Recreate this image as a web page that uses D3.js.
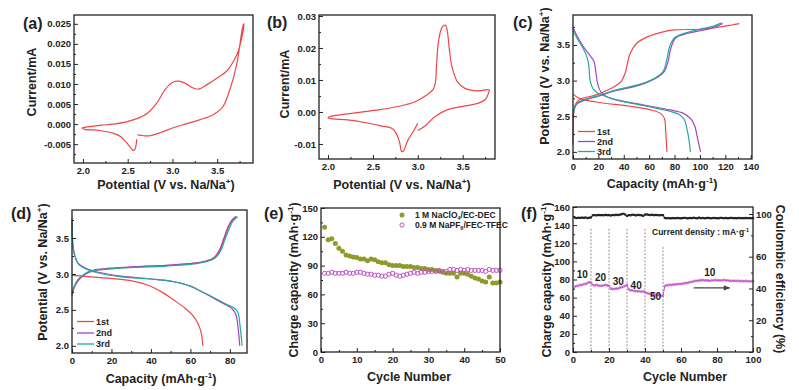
<!DOCTYPE html>
<html>
<head>
<meta charset="utf-8">
<script src="https://cdn.jsdelivr.net/npm/d3@7"></script>
<style>
body { margin: 0; background: #fff; }
svg { display: block; font-family: "Liberation Sans", Arial, sans-serif; }
</style>
</head>
<body>
<div id="container"></div>
<script>
var width = 799,
    height = 390;

// ---- data ----
// (a) CV, [potential V, current mA]
var cvA = [
  [2.61,-0.0027],[2.68,-0.0029],[2.75,-0.0029],[2.87,-0.0021],[3.01,-0.0009],[3.16,0.0001],
  [3.31,0.0011],[3.46,0.0024],[3.56,0.0042],[3.65,0.0092],[3.72,0.0151],[3.79,0.0247],
  [3.8,0.025],[3.74,0.0185],[3.69,0.0160],[3.61,0.0133],[3.5,0.0115],[3.39,0.0099],
  [3.29,0.0087],[3.22,0.0091],[3.15,0.0101],[3.07,0.0107],[3.01,0.0105],[2.96,0.0097],
  [2.9,0.0080],[2.83,0.0054],[2.72,0.0027],[2.57,0.0011],[2.38,0.0001],[2.19,-0.0003],
  [2.05,-0.0007],[1.99,-0.0010],[2.02,-0.0013],[2.19,-0.0016],[2.34,-0.0023],[2.42,-0.0031],
  [2.47,-0.0042],[2.53,-0.0058],[2.56,-0.0066],[2.58,-0.0063],[2.595,-0.0050],[2.6,-0.0038]
];
// (b) CV
var cvB = [
  [3.0,-0.0058],[3.08,-0.0044],[3.19,-0.0015],[3.34,0.0008],[3.53,0.0019],[3.67,0.0027],
  [3.75,0.0038],[3.79,0.0060],[3.795,0.0069],[3.67,0.0066],[3.53,0.0073],[3.44,0.0095],
  [3.38,0.0142],[3.35,0.0200],[3.33,0.0250],[3.31,0.0271],[3.29,0.0270],[3.26,0.0258],
  [3.23,0.0220],[3.21,0.0150],[3.195,0.0090],[3.17,0.0070],[3.1,0.0053],[2.97,0.0032],
  [2.78,0.0017],[2.6,0.0008],[2.41,0.0001],[2.22,-0.0006],[2.04,-0.0013],[2.0,-0.0018],
  [2.03,-0.0021],[2.22,-0.0025],[2.41,-0.0033],[2.6,-0.0044],[2.71,-0.0051],[2.76,-0.0067],
  [2.8,-0.0098],[2.82,-0.0124],[2.84,-0.0122],[2.89,-0.0088],[2.95,-0.0061],[3.0,-0.0035]
];
// (c) charge / discharge, [capacity mAh/g, potential V]
var c1Chg = [[0,2.1],[0.4,2.5],[1.5,2.65],[5,2.73],[18,2.8],[31,2.9],[38,2.99],[41,3.1],[43,3.25],
  [45,3.38],[50,3.52],[58,3.61],[68,3.67],[80,3.71],[100,3.72],[115,3.75],[125,3.78],[131,3.8]];
var c1Dis = [[0,2.81],[5,2.75],[18,2.7],[45,2.64],[61,2.59],[69,2.54],[72,2.47],[73,2.3],[73.5,2.15],[74,2.0]];
var c2Chg = [[0,2.5],[1,2.6],[3,2.67],[10,2.73],[20,2.78],[32,2.85],[53,2.94],[66,3.04],[72,3.13],
  [75,3.28],[77,3.45],[81,3.6],[90,3.66],[100,3.7],[110,3.74],[118,3.8]];
var c2Dis = [[0,3.74],[4,3.6],[8,3.48],[13,3.36],[16.5,3.27],[18,3.12],[19.5,2.95],[22,2.84],[27,2.77],
  [34,2.73],[55,2.66],[76,2.59],[87,2.54],[93,2.46],[96,2.36],[98,2.2],[100.5,2.0]];
var c3Chg = [[0,2.48],[1,2.6],[3,2.68],[10,2.74],[20,2.79],[32,2.86],[53,2.95],[65,3.04],[71,3.13],
  [74,3.3],[76,3.47],[80,3.6],[89,3.67],[100,3.72],[110,3.76],[117,3.81]];
var c3Dis = [[0,3.7],[4,3.57],[8,3.45],[11,3.33],[12.5,3.2],[13.5,3.0],[16,2.88],[20,2.82],[27,2.77],
  [34,2.73],[55,2.65],[76,2.57],[84,2.52],[88,2.44],[90,2.3],[91.5,2.15],[92.5,2.0]];
// (d)
var d1Chg = [[0,2.7],[1,2.8],[3,2.9],[7,3.0],[12,3.05],[19,3.07],[31,3.1],[48,3.12],[62,3.15],
  [68,3.18],[72,3.23],[75,3.35],[77,3.5],[79,3.65],[81,3.75],[83,3.8]];
var d1Dis = [[0,2.98],[14,2.95],[31,2.9],[39,2.84],[46,2.74],[52,2.63],[57,2.53],[61,2.43],[64,2.3],
  [65.5,2.18],[66.3,2.0]];
var d2Chg = [[0,2.72],[1,2.81],[3,2.91],[7,3.01],[12,3.06],[19,3.08],[31,3.1],[48,3.12],[62,3.15],
  [68,3.18],[72,3.22],[75,3.33],[77,3.48],[79,3.63],[81,3.74],[83.3,3.8]];
var d2Dis = [[0,3.78],[0.5,3.4],[1.5,3.25],[3,3.15],[7,3.08],[14,3.02],[25,2.97],[40,2.93],[50,2.9],
  [60,2.83],[66,2.75],[72,2.66],[78,2.57],[81,2.52],[83,2.44],[84.2,2.25],[85,2.0]];
var d3Chg = [[0,2.74],[1,2.82],[3,2.92],[7,3.01],[12,3.05],[19,3.07],[31,3.09],[48,3.11],[62,3.14],
  [68,3.17],[72.5,3.22],[75.5,3.33],[77.5,3.48],[79.5,3.62],[81.5,3.73],[84,3.8]];
var d3Dis = [[0,3.72],[0.6,3.35],[1.8,3.22],[3.5,3.13],[7,3.07],[14,3.01],[25,2.96],[40,2.93],[50,2.9],
  [60,2.83],[66,2.75],[72,2.67],[78,2.58],[82,2.53],[84,2.47],[85.3,2.25],[86.2,2.0]];
// (e) charge capacity per cycle 1..50
var naClO4 = [130,117,118,113,108,105,101,100,99,98.5,97,97,95,97,96,94,93,93,91,90,
  90,90,89,89,89,88,88,87,87,86,86,85,84,83,82,82,82,78,82,82,
  81,79,77,76,74,73,78,72,72,73];
var naPF6 = [82,82,83,82,82,82,83,82,82,83,83,82,81,81,80,80,79,79,81,82,
  80,79,80,81,82,83,82,83,83,84,84,84,85,84,84,86,86,85,86,85,
  86,85,85,85,85,84,86,85,85,85];
// (f) rate test, cycles 1..100
var rateCap = [72,73,73,74,74,75,75,76,77,76.5,
  74,73.5,74,73.5,73,73,73.5,74,73.5,73,
  70,69.5,69.5,70,70,71,71.5,72,73,74,
  69,68,68,67.5,67,67,67,66.5,67,66,
  65,64.5,64,64,63.5,63,63,62.5,62,62,
  73,73.5,74,74,74,74.5,74.5,75,75,75,
  75.5,76,76,76.5,77,77.5,78,78.5,78.5,79,
  79,79.5,79,79,79,78.5,79,79,79.5,79,
  79,79,79,79.5,79,79,78.5,78.5,78.5,78.5,
  78.5,78.5,78,78.5,78,78.5,78,78,78,78];
var rateCE = [96.6,96.2,96.5,96.3,96.6,96.4,96.7,96.2,96.5,96.8,
  98.8,99.0,98.7,99.1,98.9,99.0,98.8,99.2,98.9,99.0,
  98.6,99.1,98.9,99.3,99.0,99.4,99.8,100.2,99.5,98.2,
  99.0,98.8,99.3,99.1,98.7,99.2,99.0,98.8,98.3,99.4,
  99.6,99.2,99.0,99.3,98.9,99.1,99.0,98.8,99.0,98.9,
  96.3,96.0,96.2,95.9,96.1,96.2,96.0,96.3,96.1,96.0,
  96.2,96.4,96.1,96.0,96.3,96.1,96.5,96.2,96.0,96.6,
  96.1,96.3,96.0,96.2,96.4,96.1,96.0,96.3,96.2,96.1,
  96.0,96.4,96.2,96.1,96.3,96.0,96.2,96.4,96.1,96.2,
  96.0,96.3,96.1,96.2,96.0,96.3,96.1,96.2,96.0,96.2];
var rateSteps = [10, 20, 30, 40, 50];          // dashed separators (cycle)
var rateStepTop = [136, 136, 136, 136, 116];   // top of dashed separators (mAh/g)
var rateLabels = ["10", "20", "30", "40", "50", "10"];
var rateLabelAt = [[5.2,82],[15.3,78],[25.2,73.5],[35.1,69.5],[45.8,57],[76,84]];

// ticks
var cvXTicks = [2.0, 2.5, 3.0, 3.5];
var cvXMinor = [2.25, 2.75, 3.25, 3.75];
var aYTicks = [-0.005, 0, 0.005, 0.01, 0.015, 0.02, 0.025];
var aYMinor = [-0.0075, -0.0025, 0.0025, 0.0075, 0.0125, 0.0175, 0.0225];
var bYTicks = [-0.01, 0, 0.01, 0.02, 0.03];
var bYMinor = [-0.005, 0.005, 0.015, 0.025];
var potTicks = [2.0, 2.5, 3.0, 3.5];
var potMinor = [2.25, 2.75, 3.25, 3.75];
var cXTicks = [0, 20, 40, 60, 80, 100, 120, 140];
var cXMinor = [10, 30, 50, 70, 90, 110, 130];
var dXTicks = [0, 20, 40, 60, 80];
var dXMinor = [10, 30, 50, 70];
var eXTicks = [0, 10, 20, 30, 40, 50];
var eXMinor = [5, 15, 25, 35, 45];
var eYTicks = [0, 30, 60, 90, 120, 150];
var eYMinor = [15, 45, 75, 105, 135];
var fXTicks = [0, 20, 40, 60, 80, 100];
var fXMinor = [10, 30, 50, 70, 90];
var fYTicks = [0, 20, 40, 60, 80, 100, 120, 140, 160];
var fYMinor = [10, 30, 50, 70, 90, 110, 130, 150];
var fRTicks = [0, 20, 40, 60, 100];
var fRMinor = [10, 30, 50, 80];

var RED = "#f04646", PURPLE = "#a444c4", TEAL = "#24a8a0", OLIVE = "#8f9a2c", MAGENTA = "#c24fc6";
var FONT = "'Liberation Sans', Arial, sans-serif";

var svg = d3.select('#container').append('svg')
    .attr("width", width)
    .attr("height", height);

function fmt(spec) {
  var f = d3.format(spec);
  return function(d) { return f(d).replace("\u2212", "-"); };
}

function styleAxis(sel) {
  sel.select(".domain").remove();
  sel.selectAll("line").attr("stroke", "#222").attr("stroke-width", 1);
  sel.selectAll("text")
    .attr("font-family", FONT)
    .attr("font-weight", "bold")
    .attr("font-size", 9.5)
    .attr("fill", "#222");
}

// text with sup/sub parts
function rich(sel, parts, fs) {
  var shift = 0;
  parts.forEach(function(p) {
    var t = sel.append("tspan").text(p[0]);
    var target = p[1] === "sup" ? -0.4 * fs : p[1] === "sub" ? 0.25 * fs : 0;
    if (target !== shift) t.attr("dy", target - shift);
    shift = target;
    if (p[1]) t.attr("font-size", fs * 0.65);
  });
  return sel;
}

function label(x, y, parts, fs, rot) {
  var t = svg.append("text")
    .attr("transform", "translate(" + x + "," + y + ")" + (rot ? " rotate(" + rot + ")" : ""))
    .attr("text-anchor", "middle")
    .attr("font-family", FONT)
    .attr("font-weight", "bold")
    .attr("font-size", fs)
    .attr("fill", "#222");
  return rich(t, parts, fs);
}

function addPanel(c) {
  var x = d3.scaleLinear().domain(c.xd).range([c.l, c.r]);
  var y = d3.scaleLinear().domain(c.yd).range([c.b, c.t]);
  var plot = svg.append("g");
  var ax = svg.append("g");
  ax.append("g").attr("transform", "translate(0," + c.b + ")")
    .call(d3.axisBottom(x).tickValues(c.xt).tickSize(-4).tickPadding(4).tickFormat(c.xf))
    .call(styleAxis);
  ax.append("g").attr("transform", "translate(0," + c.b + ")")
    .call(d3.axisBottom(x).tickValues(c.xm).tickSize(-2).tickFormat(""))
    .call(styleAxis);
  ax.append("g").attr("transform", "translate(" + c.l + ",0)")
    .call(d3.axisLeft(y).tickValues(c.yt).tickSize(-4).tickPadding(3).tickFormat(c.yf))
    .call(styleAxis);
  ax.append("g").attr("transform", "translate(" + c.l + ",0)")
    .call(d3.axisLeft(y).tickValues(c.ym).tickSize(-2).tickFormat(""))
    .call(styleAxis);
  ax.append("rect")
    .attr("x", c.l).attr("y", c.t)
    .attr("width", c.r - c.l).attr("height", c.b - c.t)
    .attr("fill", "none").attr("stroke", "#222").attr("stroke-width", 1.3);
  return { x: x, y: y, g: plot, ax: ax };
}

function curve(p, data, color, w) {
  var line = d3.line()
    .x(function(d) { return p.x(d[0]); })
    .y(function(d) { return p.y(d[1]); })
    .curve(d3.curveCatmullRom.alpha(0.5));
  p.g.append("path").attr("d", line(data))
    .attr("fill", "none").attr("stroke", color).attr("stroke-width", w || 1.2);
}

function lineLegend(p, x0, ys, names, colors) {
  names.forEach(function(n, i) {
    p.ax.append("line").attr("x1", x0).attr("x2", x0 + 17).attr("y1", ys[i]).attr("y2", ys[i])
      .attr("stroke", colors[i]).attr("stroke-width", 1.3);
    p.ax.append("text").attr("x", x0 + 19).attr("y", ys[i] + 3.3).text(n)
      .attr("font-family", FONT).attr("font-weight", "bold").attr("font-size", 9).attr("fill", "#222");
  });
}

var potTitle = [["Potential (V vs. Na/Na"], ["+", "sup"], [")"]];
var capTitle = [["Capacity (mAh\u00b7g"], ["-1", "sup"], [")"]];
var chgTitle = [["Charge capacity (mAh\u00b7g"], ["-1", "sup"], [")"]];

// ---- (a) ----
var pa = addPanel({ l: 74, t: 15, r: 253, b: 163, xd: [1.9, 3.9], yd: [-0.0097, 0.0272],
  xt: cvXTicks, xm: cvXMinor, yt: aYTicks, ym: aYMinor, xf: fmt(".1f"), yf: fmt(".3f") });
curve(pa, cvA, RED);
label(166, 189, potTitle, 12.5);
label(36, 82, [["Current/mA"]], 12.5, -90);

// ---- (b) ----
var pb = addPanel({ l: 319, t: 15, r: 495, b: 159, xd: [1.9, 3.86], yd: [-0.0147, 0.0303],
  xt: cvXTicks, xm: cvXMinor, yt: bYTicks, ym: bYMinor, xf: fmt(".1f"), yf: fmt(".2f") });
curve(pb, cvB, RED);
label(402, 189, potTitle, 12.5);
label(289, 84, [["Current/mA"]], 12.5, -90);

// ---- (c) ----
var pc = addPanel({ l: 573, t: 15, r: 752, b: 159, xd: [0, 141], yd: [1.9, 3.92],
  xt: cXTicks, xm: cXMinor, yt: potTicks, ym: potMinor, xf: fmt("d"), yf: fmt(".1f") });
curve(pc, c1Chg, RED); curve(pc, c1Dis, RED);
curve(pc, c2Chg, PURPLE); curve(pc, c2Dis, PURPLE);
curve(pc, c3Chg, TEAL); curve(pc, c3Dis, TEAL);
lineLegend(pc, 578, [131.5, 141.5, 151.5], ["1st", "2nd", "3rd"], [RED, PURPLE, TEAL]);
label(662, 188, capTitle, 12.5);
label(549, 76, potTitle, 12.5, -90);

// ---- (d) ----
var pd = addPanel({ l: 72, t: 210, r: 247, b: 353, xd: [0, 88.7], yd: [1.9, 3.89],
  xt: dXTicks, xm: dXMinor, yt: potTicks, ym: potMinor, xf: fmt("d"), yf: fmt(".1f") });
curve(pd, d1Chg, RED); curve(pd, d1Dis, RED);
curve(pd, d2Chg, PURPLE); curve(pd, d2Dis, PURPLE);
curve(pd, d3Chg, TEAL); curve(pd, d3Dis, TEAL);
lineLegend(pd, 77, [321.5, 333, 344], ["1st", "2nd", "3rd"], [RED, PURPLE, TEAL]);
label(161, 383, capTitle, 12.5);
label(47, 272, potTitle, 12.5, -90);

// ---- (e) ----
var pe = addPanel({ l: 321, t: 208, r: 500, b: 352, xd: [0, 50], yd: [0, 150],
  xt: eXTicks, xm: eXMinor, yt: eYTicks, ym: eYMinor, xf: fmt("d"), yf: fmt("d") });
pe.g.selectAll(".clo4").data(naClO4).enter().append("circle")
  .attr("cx", function(d, i) { return pe.x(i + 1); })
  .attr("cy", function(d) { return pe.y(d); })
  .attr("r", 2.5).attr("fill", OLIVE);
pe.g.selectAll(".pf6").data(naPF6).enter().append("circle")
  .attr("cx", function(d, i) { return pe.x(i + 1); })
  .attr("cy", function(d) { return pe.y(d); })
  .attr("r", 2.1).attr("fill", "none").attr("stroke", MAGENTA).attr("stroke-width", 1);
pe.ax.append("circle").attr("cx", 402).attr("cy", 215).attr("r", 2.5).attr("fill", OLIVE);
pe.ax.append("circle").attr("cx", 402).attr("cy", 225).attr("r", 2.1)
  .attr("fill", "none").attr("stroke", MAGENTA).attr("stroke-width", 1);
rich(pe.ax.append("text").attr("x", 415).attr("y", 218.3)
  .attr("font-family", FONT).attr("font-weight", "bold").attr("font-size", 8.5).attr("fill", "#222"),
  [["1 M NaClO"], ["4", "sub"], ["/EC-DEC"]], 8.5);
rich(pe.ax.append("text").attr("x", 415).attr("y", 228.3)
  .attr("font-family", FONT).attr("font-weight", "bold").attr("font-size", 8.5).attr("fill", "#222"),
  [["0.9 M NaPF"], ["6", "sub"], ["/FEC-TFEC"]], 8.5);
label(409, 381, [["Cycle Number"]], 12.5);
label(298, 280, chgTitle, 12.5, -90);

// ---- (f) ----
var pf = addPanel({ l: 573, t: 207, r: 753, b: 352, xd: [0, 100], yd: [0, 160],
  xt: fXTicks, xm: fXMinor, yt: fYTicks, ym: fYMinor, xf: fmt("d"), yf: fmt("d") });
var yR = d3.scaleLinear().domain([0, 60, 100]).range([352, 256.7, 214]);
var rAxis = pf.ax.append("g").attr("transform", "translate(753,0)")
  .call(d3.axisRight(yR).tickValues(fRTicks).tickSize(-4).tickPadding(3).tickFormat(fmt("d")))
  .call(styleAxis);
// the right "0" sits a little above the bottom "100"
rAxis.selectAll(".tick text").filter(function(d) { return d === 0; }).attr("y", -3);
pf.ax.append("g").attr("transform", "translate(753,0)")
  .call(d3.axisRight(yR).tickValues(fRMinor).tickSize(-2).tickFormat(""))
  .call(styleAxis);

rateSteps.forEach(function(s, i) {
  pf.g.append("line").attr("x1", pf.x(s)).attr("x2", pf.x(s))
    .attr("y1", pf.y(rateStepTop[i])).attr("y2", pf.y(0))
    .attr("stroke", "#888").attr("stroke-width", 0.9).attr("stroke-dasharray", "2,1.5");
});

var capLine = d3.line()
  .x(function(d, i) { return pf.x(i + 1); })
  .y(function(d) { return pf.y(d); });
pf.g.append("path").attr("d", capLine(rateCap))
  .attr("fill", "none").attr("stroke", MAGENTA).attr("stroke-width", 1);
pf.g.selectAll(".cap").data(rateCap).enter().append("circle")
  .attr("cx", function(d, i) { return pf.x(i + 1); })
  .attr("cy", function(d) { return pf.y(d); })
  .attr("r", 1).attr("fill", "none").attr("stroke", MAGENTA).attr("stroke-width", 0.7);

var ceLine = d3.line()
  .x(function(d, i) { return pf.x(i + 1); })
  .y(function(d) { return yR(d); });
pf.g.append("path").attr("d", ceLine(rateCE))
  .attr("fill", "none").attr("stroke", "#222").attr("stroke-width", 1);
pf.g.selectAll(".ce").data(rateCE).enter().append("rect")
  .attr("x", function(d, i) { return pf.x(i + 1) - 1.1; })
  .attr("y", function(d) { return yR(d) - 1.1; })
  .attr("width", 2.2).attr("height", 2.2).attr("fill", "#222");

rateLabels.forEach(function(t, i) {
  pf.ax.append("text").attr("x", pf.x(rateLabelAt[i][0])).attr("y", pf.y(rateLabelAt[i][1]))
    .attr("text-anchor", "middle").text(t)
    .attr("font-family", FONT).attr("font-weight", "bold").attr("font-size", 10).attr("fill", "#222");
});

svg.append("defs").append("marker")
  .attr("id", "arr").attr("viewBox", "0 0 10 10").attr("refX", 9).attr("refY", 5)
  .attr("markerWidth", 6).attr("markerHeight", 5).attr("orient", "auto")
  .append("path").attr("d", "M0,1L10,5L0,9Z").attr("fill", "#444");
pf.ax.append("line").attr("x1", pf.x(67)).attr("x2", pf.x(87))
  .attr("y1", pf.y(70.7)).attr("y2", pf.y(70.7))
  .attr("stroke", "#444").attr("stroke-width", 1.3).attr("marker-end", "url(#arr)");

rich(pf.ax.append("text").attr("x", 652).attr("y", 235)
  .attr("font-family", FONT).attr("font-weight", "bold").attr("font-size", 8.5).attr("fill", "#222"),
  [["Current density : mA\u00b7g"], ["-1", "sup"]], 8.5);

label(685, 381, [["Cycle Number"]], 12.5);
label(551, 280, chgTitle, 12.5, -90);
label(776, 279, [["Coulombic efficiency (%)"]], 12.5, 90);

// panel letters
[["(a)", 23, 29], ["(b)", 267, 28], ["(c)", 513, 28], ["(d)", 11, 219], ["(e)", 264, 219], ["(f)", 521, 219]]
  .forEach(function(l) {
    svg.append("text").attr("x", l[1]).attr("y", l[2]).text(l[0])
      .attr("font-family", FONT).attr("font-weight", "bold").attr("font-size", 16).attr("fill", "#222");
  });
</script>
</body>
</html>
